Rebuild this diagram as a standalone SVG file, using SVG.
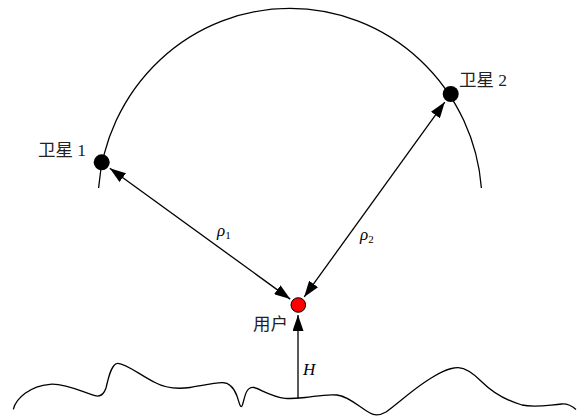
<svg xmlns="http://www.w3.org/2000/svg" width="585" height="416" viewBox="0 0 585 416">
<style>
.ln{fill:none;stroke:#000;stroke-width:1.3}
.t{font-family:"Liberation Serif","Noto Sans CJK SC",serif;font-size:17.5px;fill:#222}
.m{font-family:"Liberation Serif",serif;font-style:italic;font-size:17px;fill:#000}
.s{font-family:"Liberation Serif",serif;font-size:11px;font-style:normal;fill:#000}
</style>
<defs>
<marker id="ah" viewBox="0 0 16 11" refX="16" refY="5.5" markerWidth="16" markerHeight="11" markerUnits="userSpaceOnUse" orient="auto-start-reverse">
<path d="M0,0 L16,5.5 L0,11 Z" fill="#000"/>
</marker>
</defs>
<rect width="585" height="416" fill="#fff"/>
<g id="orbit">
<path class="ln" d="M98.6,188 A192,195 0 0 1 481.4,188"/>
</g>
<g id="ground">
<path class="ln" d="M13.3,409.3 C16,398 30,386 50,384.3 C65,383 85,393 95,395.7 C100,397 104,394 106,388 C108,380 111,363 118,363.3 C126,363.5 140,375 155,382.5 C165,388 175,389.5 190,387.5 C200,386 214,383 222,382.7 C230,382.5 234,388 237,396 C239,402 240,407 241.5,406.5 C243,406 244,396 247,391 C249,388 251,387 254,387.5 C260,389 272,397 285,398.3 C292,399 297,398.3 305,397.5 C315,396.5 325,394 337,395 C348,396 358,406 370,413 C374,415.5 379,416 386,412 C396,405 410,392 425,382 C437,374 448,367.5 458.3,367.7 C466,368 474,374 482,382 C492,392 505,400 522,405 C535,408 548,405 561.7,404 C568,403.5 572,406 576,409.5"/>
</g>
<g id="connectors">
<line class="ln" x1="109.8" y1="168.2" x2="290.2" y2="299.1" marker-start="url(#ah)" marker-end="url(#ah)"/>
<line class="ln" x1="444.8" y1="102.1" x2="304.2" y2="296.9" marker-start="url(#ah)" marker-end="url(#ah)"/>
<line class="ln" x1="298" y1="398.3" x2="298" y2="315" marker-end="url(#ah)"/>
</g>
<g id="sat1">
<circle cx="101.7" cy="162.3" r="8" fill="#000"/>
<text class="t" x="38" y="156">卫星 1</text>
</g>
<g id="sat2">
<circle cx="450.7" cy="94" r="8" fill="#000"/>
<text class="t" x="459" y="86">卫星 2</text>
</g>
<g id="user">
<circle cx="298.3" cy="305" r="7.3" fill="#f00" stroke="#000" stroke-width="1"/>
<text class="t" x="253" y="330">用户</text>
</g>
<g id="labels">
<text class="m" x="217" y="236">ρ<tspan class="s" dy="3">1</tspan></text>
<text class="m" x="360" y="240">ρ<tspan class="s" dy="3">2</tspan></text>
<text class="m" x="303" y="375">H</text>
</g>
</svg>
